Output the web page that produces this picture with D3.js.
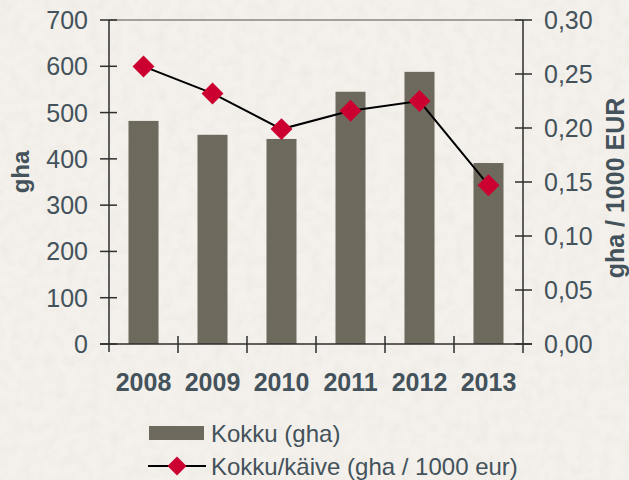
<!DOCTYPE html>
<html lang="et">
<head>
<meta charset="UTF-8">
<title>Kokku</title>
<script src="https://d3js.org/d3.v7.min.js"></script>
<style>
  body { margin: 0; padding: 0; background: #f1eee9; }
  text { font-family: "Liberation Sans", Arial, sans-serif; }
</style>
</head>
<body>
<script>
  const years = ["2008", "2009", "2010", "2011", "2012", "2013"];
  const kokku = [482, 452, 443, 545, 588, 391];
  const kaive = [0.257, 0.232, 0.199, 0.216, 0.225, 0.147];
  const leftTicks = [0, 100, 200, 300, 400, 500, 600, 700];
  const rightTicks = [0, 0.05, 0.10, 0.15, 0.20, 0.25, 0.30];

  const width = 629, height = 480;
  const m = { left: 109, right: 523, top: 20, bottom: 344 };
  const txtCol = "#43525b";
  const axCol = "#2e2e2e";

  const svg = d3.select("body").append("svg")
    .attr("width", width)
    .attr("height", height)

  // paper-ish background
  const defs = svg.append("defs");
  const f = defs.append("filter").attr("id", "paper").attr("x", 0).attr("y", 0).attr("width", "100%").attr("height", "100%");
  f.append("feTurbulence").attr("type", "fractalNoise").attr("baseFrequency", 0.09).attr("numOctaves", 3).attr("seed", 4);
  f.append("feColorMatrix").attr("type", "matrix")
    .attr("values", "0 0 0 0 0.6  0 0 0 0 0.57  0 0 0 0 0.5  0 0 0 -1.2 0.75");
  svg.append("rect").attr("width", width).attr("height", height).attr("fill", "#f4f1ec");
  svg.append("rect").attr("width", width).attr("height", height).attr("filter", "url(#paper)").attr("opacity", 0.22);

  const x = d3.scaleBand().domain(years).range([m.left, m.right]).paddingInner(0.565).paddingOuter(0.2825);
  const xb = d3.scaleBand().domain(years).range([m.left, m.right]);
  const yL = d3.scaleLinear().domain([0, 700]).range([m.bottom, m.top]);
  const yR = d3.scaleLinear().domain([0, 0.30]).range([m.bottom, m.top]);

  // top border of plot area
  svg.append("line")
    .attr("x1", m.left).attr("x2", m.right)
    .attr("y1", m.top).attr("y2", m.top)
    .attr("stroke", "#a3a09a").attr("stroke-width", 2)

  // bars
  svg.append("g").selectAll("rect")
    .data(years)
    .join("rect")
    .attr("x", d => x(d))
    .attr("width", x.bandwidth())
    .attr("y", (d, i) => yL(kokku[i]))
    .attr("height", (d, i) => yL(0) - yL(kokku[i]))
    .attr("fill", "#6d6a5d")

  // left axis
  const gl = svg.append("g")
  gl.append("line").attr("x1", m.left).attr("x2", m.left).attr("y1", m.top).attr("y2", m.bottom + 8)
    .attr("stroke", axCol).attr("stroke-width", 1.5)
  gl.selectAll(".t").data(leftTicks).join("line")
    .attr("x1", m.left - 9).attr("x2", m.left + 8)
    .attr("y1", d => yL(d)).attr("y2", d => yL(d))
    .attr("stroke", axCol).attr("stroke-width", 1.5)
  gl.selectAll("text").data(leftTicks).join("text")
    .attr("x", 88).attr("y", d => yL(d) + 9)
    .attr("text-anchor", "end")
    .attr("font-size", 25)
    .attr("fill", txtCol)
    .text(d => d)

  // right axis
  const fmt = d => d3.format(".2f")(d).replace(".", ",");
  const gr = svg.append("g")
  gr.append("line").attr("x1", m.right).attr("x2", m.right).attr("y1", m.top).attr("y2", m.bottom)
    .attr("stroke", axCol).attr("stroke-width", 1.5)
  gr.selectAll(".t").data(rightTicks).join("line")
    .attr("x1", m.right - 8).attr("x2", m.right + 9)
    .attr("y1", d => yR(d)).attr("y2", d => yR(d))
    .attr("stroke", axCol).attr("stroke-width", 1.5)
  gr.selectAll("text").data(rightTicks).join("text")
    .attr("x", 544).attr("y", d => yR(d) + 9)
    .attr("font-size", 25)
    .attr("fill", txtCol)
    .text(fmt)

  // x axis
  const gx = svg.append("g")
  gx.append("line").attr("x1", m.left - 9).attr("x2", m.right + 9).attr("y1", m.bottom).attr("y2", m.bottom)
    .attr("stroke", axCol).attr("stroke-width", 1.5)
  gx.selectAll(".t").data(years.slice(1)).join("line")
    .attr("x1", d => xb(d)).attr("x2", d => xb(d))
    .attr("y1", m.bottom - 8).attr("y2", m.bottom + 9)
    .attr("stroke", axCol).attr("stroke-width", 1.5)
  gx.append("line").attr("x1", m.right).attr("x2", m.right).attr("y1", m.bottom).attr("y2", m.bottom + 9)
    .attr("stroke", axCol).attr("stroke-width", 1.5)
  gx.selectAll("text").data(years).join("text")
    .attr("x", d => xb(d) + xb.bandwidth() / 2)
    .attr("y", 391)
    .attr("text-anchor", "middle")
    .attr("font-size", 25)
    .attr("font-weight", "bold")
    .attr("fill", txtCol)
    .text(d => d)

  // axis titles
  svg.append("text")
    .attr("transform", "translate(29,172) rotate(-90)")
    .attr("text-anchor", "middle")
    .attr("font-size", 24).attr("font-weight", "bold").attr("fill", txtCol)
    .text("gha")
  svg.append("text")
    .attr("transform", "translate(624,188) rotate(-90)")
    .attr("text-anchor", "middle")
    .attr("font-size", 25).attr("font-weight", "bold").attr("fill", txtCol)
    .text("gha / 1000 EUR")

  // line series
  const cx = d => xb(d) + xb.bandwidth() / 2;
  const line = d3.line().x(d => cx(d[0])).y(d => yR(d[1]));
  const pts = years.map((d, i) => [d, kaive[i]]);
  svg.append("path")
    .attr("d", line(pts))
    .attr("fill", "none")
    .attr("stroke", "#000")
    .attr("stroke-width", 2)

  const diamond = d3.symbol().type(d3.symbolSquare).size(240);
  svg.append("g").selectAll("path")
    .data(pts)
    .join("path")
    .attr("d", diamond)
    .attr("transform", d => `translate(${cx(d[0])},${yR(d[1])}) rotate(45)`)
    .attr("fill", "#cc0030")

  // legend
  const lg = svg.append("g")
  lg.append("rect").attr("x", 149).attr("y", 426).attr("width", 55).attr("height", 14).attr("fill", "#6d6a5d")
  lg.append("text").attr("x", 211).attr("y", 442).attr("font-size", 24).attr("fill", txtCol).text("Kokku (gha)")
  lg.append("line").attr("x1", 148).attr("x2", 206).attr("y1", 466).attr("y2", 466)
    .attr("stroke", "#000").attr("stroke-width", 2)
  lg.append("path").attr("d", d3.symbol().type(d3.symbolSquare).size(180))
    .attr("transform", "translate(177,466) rotate(45)")
    .attr("fill", "#cc0030")
  lg.append("text").attr("x", 211).attr("y", 475).attr("font-size", 24).attr("fill", txtCol).text("Kokku/käive (gha / 1000 eur)")
</script>
</body>
</html>
